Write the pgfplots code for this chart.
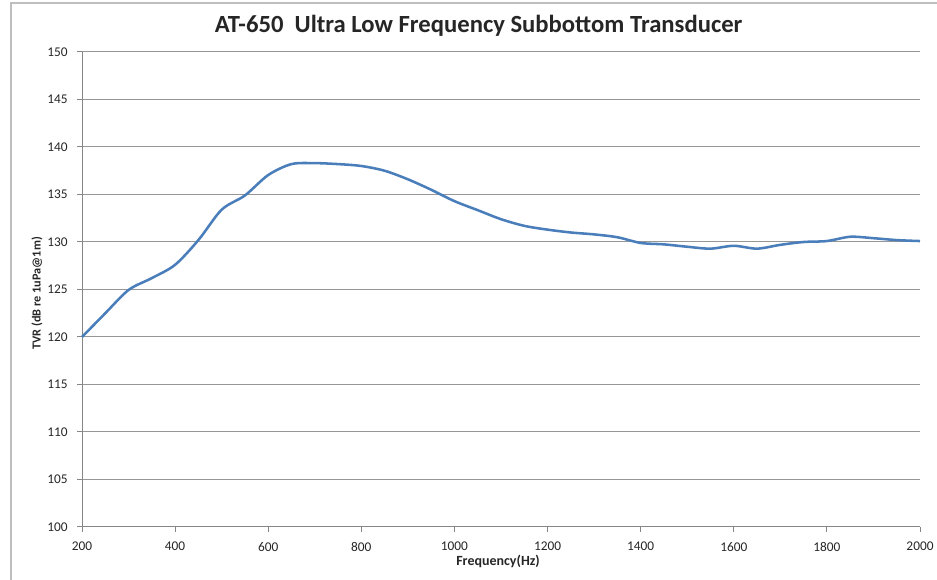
\documentclass[border=0pt]{standalone}
\usepackage{fontspec}
\setmainfont{Carlito}
\usepackage{pgfplots}
\pgfplotsset{compat=1.18}
\definecolor{axgray}{RGB}{134,134,134}
\definecolor{gridgray}{RGB}{150,150,150}
\definecolor{frame}{RGB}{190,190,190}
\definecolor{lineblue}{RGB}{74,126,187}
\begin{document}
\begin{tikzpicture}
\path[use as bounding box] (0,0) rectangle (702.75pt,435pt);
\draw[frame, line width=0.9pt] (8.25pt,0) -- (8.25pt,432.75pt) -- (702.75pt,432.75pt);
\begin{axis}[
  at={(61.5pt,39.75pt)}, anchor=south west,
  width=628.5pt, height=356.25pt, scale only axis,
  xmin=200, xmax=2000, ymin=100, ymax=150,
  xtick={200,400,...,2000}, ytick={100,105,...,150},
  axis x line*=bottom, axis y line*=left,
  axis line style={-, draw=axgray, line width=0.75pt},
  ymajorgrids, grid style={draw=gridgray, line width=0.75pt},
  tick align=outside, major tick length=3.75pt,
  tick style={draw=axgray, line width=0.75pt},
  /pgf/number format/assume math mode=true,
  /pgf/number format/1000 sep={},
  tick label style={font=\fontsize{10}{12}\selectfont, text=black!85},
  yticklabel style={xshift=-3.5pt},
  xticklabel style={yshift=-4pt},
  clip=false,
]
\addplot[lineblue, line width=1.9pt, smooth, tension=0.5] coordinates {
(200,120.0) (250,122.5) (300,124.95) (350,126.2) (400,127.6) (450,130.2)
(500,133.4) (550,134.9) (600,137.05) (650,138.2) (700,138.3) (750,138.2)
(800,138.0) (850,137.5) (900,136.6) (950,135.5) (1000,134.3) (1050,133.35)
(1100,132.4) (1150,131.7) (1200,131.3) (1250,131.0) (1300,130.8) (1350,130.5)
(1400,129.9) (1450,129.75) (1500,129.5) (1550,129.3) (1600,129.6) (1650,129.3)
(1700,129.7) (1750,130.0) (1800,130.1) (1850,130.55) (1900,130.4) (1950,130.2)
(2000,130.1)
};
\end{axis}
\node[font=\bfseries\fontsize{18.5}{22}\selectfont, text=black!85] at (359pt,416pt) {AT-650\ \ Ultra Low Frequency Subbottom Transducer};
\node[font=\bfseries\fontsize{9.2}{11}\selectfont, rotate=90, text=black!85] at (27.75pt,215pt) {TVR (dB re 1uPa@1m)};
\node[font=\bfseries\fontsize{10.5}{12}\selectfont, text=black!85] at (373.5pt,14pt) {Frequency(Hz)};
\end{tikzpicture}
\end{document}
